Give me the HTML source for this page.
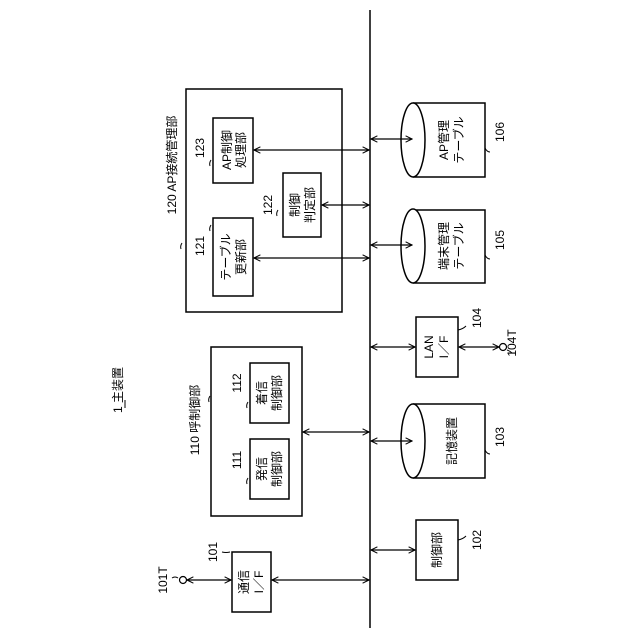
<!DOCTYPE html>
<html><head><meta charset="utf-8"><style>body{margin:0;background:#fff}svg{display:block}text{font-family:"Liberation Sans","Noto Sans CJK JP",sans-serif;font-size:12px;fill:#000}</style></head>
<body>
<svg width="640" height="640" viewBox="0 0 640 640" xmlns="http://www.w3.org/2000/svg">
<defs>
<marker id="a" viewBox="0 0 10 10" refX="9" refY="5" markerWidth="8" markerHeight="8" orient="auto-start-reverse" markerUnits="userSpaceOnUse"><path d="M1,1 L9,5 L1,9" fill="none" stroke="#000" stroke-width="1.3"/></marker>
</defs>
<g stroke="#000" stroke-width="1.5" fill="none">
<line x1="370" y1="10" x2="370" y2="628"/>
<rect x="186" y="89" width="156" height="223"/>
<rect x="213" y="118" width="40" height="65"/>
<rect x="283" y="173" width="38" height="64"/>
<rect x="213" y="218" width="40" height="78"/>
<rect x="211" y="347" width="91" height="169"/>
<rect x="250" y="363" width="39" height="60"/>
<rect x="250" y="439" width="39" height="60"/>
<rect x="232" y="552" width="39" height="60"/>
<rect x="416" y="317" width="42" height="60"/>
<rect x="416" y="520" width="42" height="60"/>
<path d="M413,103 L485,103 L485,177 L413,177"/><ellipse cx="413" cy="140" rx="12" ry="37" fill="#fff"/>
<path d="M413,210 L485,210 L485,283 L413,283"/><ellipse cx="413" cy="246" rx="12" ry="37" fill="#fff"/>
<path d="M413,404 L485,404 L485,478 L413,478"/><ellipse cx="413" cy="441" rx="12" ry="37" fill="#fff"/>
</g>
<g stroke="#000" stroke-width="1.2" fill="none" marker-start="url(#a)" marker-end="url(#a)">
<line x1="254" y1="150" x2="369" y2="150"/>
<line x1="322" y1="205" x2="369" y2="205"/>
<line x1="254" y1="258" x2="369" y2="258"/>
<line x1="303" y1="432" x2="369" y2="432"/>
<line x1="272" y1="580" x2="369" y2="580"/>
<line x1="187" y1="580" x2="231" y2="580"/>
<line x1="371" y1="139" x2="412" y2="139"/>
<line x1="371" y1="245" x2="412" y2="245"/>
<line x1="371" y1="441" x2="412" y2="441"/>
<line x1="371" y1="347" x2="415" y2="347"/>
<line x1="459" y1="347" x2="499" y2="347"/>
<line x1="371" y1="550" x2="415" y2="550"/>
</g>
<g stroke="#000" stroke-width="1.2" fill="#fff">
<circle cx="183" cy="580" r="3.5"/><circle cx="503" cy="347" r="3.5"/>
</g>
<g stroke="#000" stroke-width="1" fill="none">
<path d="M182,243 q-2,3 -1,6"/><path d="M211,225 q-2,3 -1,6"/><path d="M211,160 q-2,3 -1,6"/><path d="M278,210 q-2,3 -1,6"/>
<path d="M210,396 q-2,3 -1,6"/><path d="M248,402 q-2,3 -1,6"/><path d="M248,478 q-2,3 -1,6"/>
<path d="M230,552 q-4,1 -8,0"/><path d="M178,578 q-3,-2 -6,0"/>
<path d="M485,148 q2,4 5,4"/><path d="M485,255 q2,4 5,4"/><path d="M485,450 q2,4 5,4"/>
<path d="M458,330 q5,-1 8,-4"/><path d="M458,540 q5,-1 8,-4"/><path d="M507,350 q3,1 5,3"/>
</g>
<g text-anchor="middle" dominant-baseline="central">
<text transform="translate(172,165) rotate(-90)">120 AP接続管理部</text>
<text transform="translate(227,150) rotate(-90)">AP制御</text>
<text transform="translate(241,150) rotate(-90)">処理部</text>
<text transform="translate(200,148) rotate(-90)">123</text>
<text transform="translate(295,205) rotate(-90)">制御</text>
<text transform="translate(310,205) rotate(-90)">判定部</text>
<text transform="translate(268,205) rotate(-90)">122</text>
<text transform="translate(226,257) rotate(-90)">テーブル</text>
<text transform="translate(241,257) rotate(-90)">更新部</text>
<text transform="translate(200,246) rotate(-90)">121</text>
<text transform="translate(195,420) rotate(-90)">110 呼制御部</text>
<text transform="translate(262,393) rotate(-90)">着信</text>
<text transform="translate(277,393) rotate(-90)">制御部</text>
<text transform="translate(237,383) rotate(-90)">112</text>
<text transform="translate(262,469) rotate(-90)">発信</text>
<text transform="translate(277,469) rotate(-90)">制御部</text>
<text transform="translate(237,460) rotate(-90)">111</text>
<text transform="translate(244,582) rotate(-90)">通信</text>
<text transform="translate(259,582) rotate(-90)">I／F</text>
<text transform="translate(213,552) rotate(-90)">101</text>
<text transform="translate(163,580) rotate(-90)">101T</text>
<text transform="translate(118,390) rotate(-90)">1 主装置</text>
<line x1="125" y1="400" x2="125" y2="408" stroke="#000" stroke-width="1"/>
<text transform="translate(444,140) rotate(-90)">AP管理</text>
<text transform="translate(459,140) rotate(-90)">テーブル</text>
<text transform="translate(500,132) rotate(-90)">106</text>
<text transform="translate(444,246) rotate(-90)">端末管理</text>
<text transform="translate(459,246) rotate(-90)">テーブル</text>
<text transform="translate(500,240) rotate(-90)">105</text>
<text transform="translate(429,347) rotate(-90)">LAN</text>
<text transform="translate(444,347) rotate(-90)">I／F</text>
<text transform="translate(477,318) rotate(-90)">104</text>
<text transform="translate(512,343) rotate(-90)">104T</text>
<text transform="translate(452,441) rotate(-90)">記憶装置</text>
<text transform="translate(500,437) rotate(-90)">103</text>
<text transform="translate(437,550) rotate(-90)">制御部</text>
<text transform="translate(477,540) rotate(-90)">102</text>
</g>
</svg>
</body></html>
